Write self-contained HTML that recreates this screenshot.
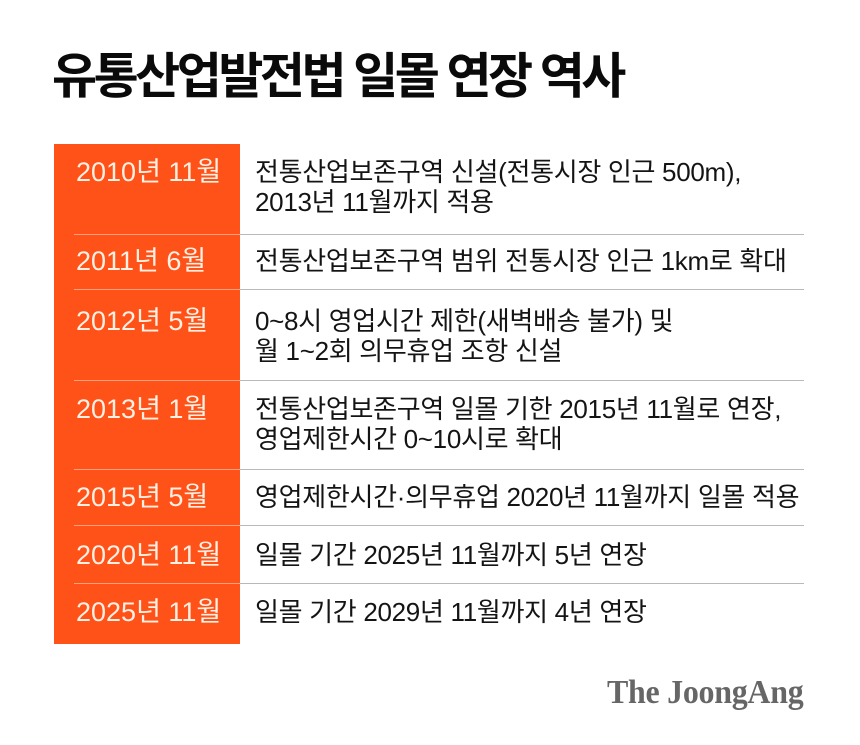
<!DOCTYPE html>
<html>
<head>
<meta charset="utf-8">
<style>
  html, body { margin:0; padding:0; }
  body { width:860px; height:745px; background:#ffffff; position:relative; overflow:hidden;
         font-family:"Liberation Sans","Noto Sans CJK KR",sans-serif; }
  .title { position:absolute; left:52px; top:52px; font-size:49px; line-height:50px; font-weight:bold;
           color:#0a0a0a; letter-spacing:-3.5px; white-space:nowrap;
           font-family:"Liberation Sans","Noto Sans CJK KR",sans-serif; }
  .orange { position:absolute; left:54px; top:144px; width:186px; height:500px; background:#ff5219; }
  .sepo { position:absolute; left:74px; width:166px; height:1px; background:#ffa27c; }
  .sepg { position:absolute; left:240px; width:564px; height:1px; background:#b9b9b9; }
  .date { position:absolute; left:76px; font-size:27px; line-height:30px; color:#fff0e4; white-space:nowrap; letter-spacing:0px; }
  .txt { position:absolute; left:255px; font-size:26px; line-height:30px; color:#141414; white-space:nowrap; letter-spacing:-0.3px; }
  .logo { position:absolute; left:607px; top:675px; font-family:"Liberation Serif",serif; font-weight:bold;
          font-size:34px; line-height:36px; color:#666666; white-space:nowrap;
          transform:scaleX(0.94); transform-origin:left top; letter-spacing:-0.3px; }
</style>
</head>
<body>
  <div class="title">유통산업발전법 일몰 연장 역사</div>

  <div class="orange"></div>

  <div class="sepo" style="top:234px"></div>
  <div class="sepo" style="top:289px"></div>
  <div class="sepo" style="top:380px"></div>
  <div class="sepo" style="top:469px"></div>
  <div class="sepo" style="top:525px"></div>
  <div class="sepo" style="top:583px"></div>

  <div class="sepg" style="top:234px"></div>
  <div class="sepg" style="top:289px"></div>
  <div class="sepg" style="top:380px"></div>
  <div class="sepg" style="top:469px"></div>
  <div class="sepg" style="top:525px"></div>
  <div class="sepg" style="top:583px"></div>

  <!-- row 1 -->
  <div class="date" style="top:157px">2010년 11월</div>
  <div class="txt" style="top:157px">전통산업보존구역 신설(전통시장 인근 500m),<br>2013년 11월까지 적용</div>

  <!-- row 2 -->
  <div class="date" style="top:246px">2011년 6월</div>
  <div class="txt" style="top:246px">전통산업보존구역 범위 전통시장 인근 1km로 확대</div>

  <!-- row 3 -->
  <div class="date" style="top:306px">2012년 5월</div>
  <div class="txt" style="top:306px">0~8시 영업시간 제한(새벽배송 불가) 및<br>월 1~2회 의무휴업 조항 신설</div>

  <!-- row 4 -->
  <div class="date" style="top:394px">2013년 1월</div>
  <div class="txt" style="top:394px">전통산업보존구역 일몰 기한 2015년 11월로 연장,<br>영업제한시간 0~10시로 확대</div>

  <!-- row 5 -->
  <div class="date" style="top:482px">2015년 5월</div>
  <div class="txt" style="top:482px">영업제한시간·의무휴업 2020년 11월까지 일몰 적용</div>

  <!-- row 6 -->
  <div class="date" style="top:540px">2020년 11월</div>
  <div class="txt" style="top:540px">일몰 기간 2025년 11월까지 5년 연장</div>

  <!-- row 7 -->
  <div class="date" style="top:597px">2025년 11월</div>
  <div class="txt" style="top:597px">일몰 기간 2029년 11월까지 4년 연장</div>

  <div class="logo">The JoongAng</div>
</body>
</html>
